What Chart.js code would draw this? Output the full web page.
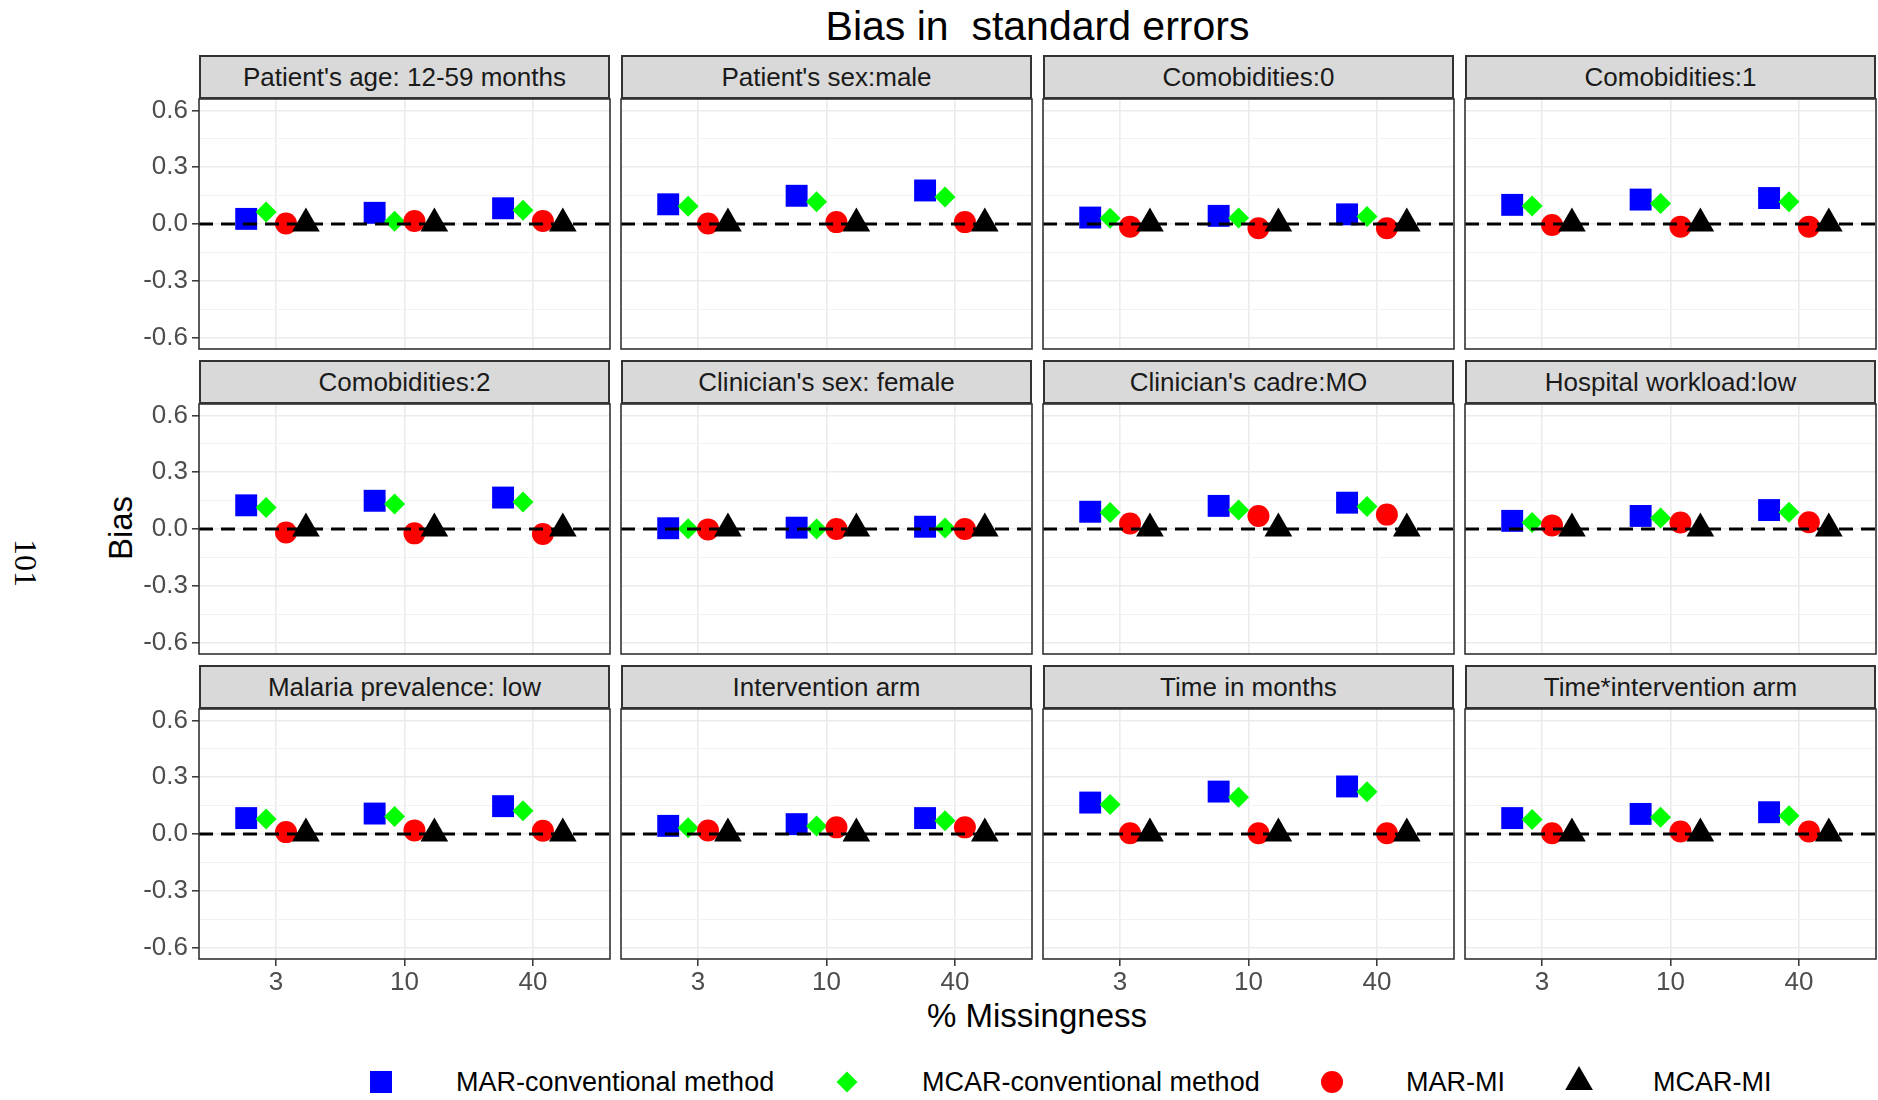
<!DOCTYPE html>
<html>
<head>
<meta charset="utf-8">
<title>Bias in standard errors</title>
<script src="https://cdn.jsdelivr.net/npm/chart.js"></script>
<style>
  html, body { margin: 0; padding: 0; background: #fff; }
  #page {
    position: relative; width: 1878px; height: 1100px; overflow: hidden;
    background: #fff; font-family: "Liberation Sans", Arial, sans-serif;
  }
  .abs { position: absolute; white-space: pre; }
  #title { left: 199px; width: 1677px; top: 4px; text-align: center; font-size: 41px; line-height: 44px; color: #000; }
  #yTitle { left: 121px; top: 528px; font-size: 33px; line-height: 36px; color: #000; transform: translate(-50%, -50%) rotate(-90deg); }
  #xTitle { left: 1037px; top: 1016px; font-size: 33px; line-height: 36px; color: #000; transform: translate(-50%, -50%); }
  #pageNo { left: 26px; top: 563px; font-family: "Liberation Serif", "Times New Roman", serif; font-size: 32px; line-height: 34px; color: #000; transform: translate(-50%, -50%) rotate(90deg); }
  .strip {
    position: absolute; width: 411px; height: 44px; box-sizing: border-box;
    background: #D9D9D9; border: 2px solid #333; text-align: center;
    font-size: 26px; line-height: 40px; color: #1A1A1A; white-space: pre;
  }
  .panel { position: absolute; }
  .legendText { font-size: 27px; line-height: 30px; color: #000; transform: translateY(-50%); }
  .legendKey { position: absolute; overflow: visible; }
</style>
</head>
<body>
<div id="page">
  <div id="title" class="abs">Bias in  standard errors</div>
  <div id="pageNo" class="abs">101</div>
  <div id="yTitle" class="abs">Bias</div>
  <div id="xTitle" class="abs">% Missingness</div>
</div>
<script>
// x categories (% missingness) and facet titles
const categories = ['3', '10', '40'];
const panelTitles = [
  "Patient's age: 12-59 months", "Patient's sex:male", 'Comobidities:0', 'Comobidities:1',
  'Comobidities:2', "Clinician's sex: female", "Clinician's cadre:MO", 'Hospital workload:low',
  'Malaria prevalence: low', 'Intervention arm', 'Time in months', 'Time*intervention arm'
];

// bias per panel, one value per category
const marConventional = [
  [0.027, 0.059, 0.083], [0.104, 0.149, 0.177], [0.034, 0.043, 0.051], [0.101, 0.129, 0.137],
  [0.125, 0.149, 0.166], [0.004, 0.007, 0.012], [0.091, 0.122, 0.139], [0.043, 0.069, 0.100],
  [0.084, 0.108, 0.147], [0.043, 0.052, 0.084], [0.166, 0.224, 0.251], [0.084, 0.106, 0.115]
];
const mcarConventional = [
  [0.063, 0.014, 0.072], [0.094, 0.117, 0.142], [0.031, 0.032, 0.040], [0.095, 0.108, 0.117],
  [0.114, 0.132, 0.143], [0.001, 0.000, 0.005], [0.087, 0.100, 0.119], [0.034, 0.058, 0.089],
  [0.079, 0.092, 0.123], [0.033, 0.042, 0.070], [0.156, 0.194, 0.223], [0.077, 0.088, 0.096]
];
const marMI = [
  [0.003, 0.016, 0.016], [0.003, 0.010, 0.010], [-0.014, -0.022, -0.022], [-0.005, -0.014, -0.014],
  [-0.018, -0.023, -0.026], [-0.002, 0.000, 0.000], [0.029, 0.069, 0.076], [0.019, 0.034, 0.036],
  [0.010, 0.019, 0.017], [0.018, 0.035, 0.035], [0.004, 0.004, 0.004], [0.004, 0.013, 0.013]
];
const mcarMI = [
  [0.002, 0.003, 0.003], [0.003, 0.003, 0.003], [0.003, 0.003, 0.003], [0.003, 0.003, 0.003],
  [0.003, 0.003, 0.003], [0.003, 0.003, 0.003], [0.002, 0.002, 0.002], [0.002, 0.002, 0.002],
  [0.003, 0.003, 0.003], [0.002, 0.002, 0.002], [0.003, 0.003, 0.003], [0.003, 0.003, 0.003]
];

// y axis: labelled ticks every 0.3, light minor lines in between
const yTickValues = [-0.6, -0.45, -0.3, -0.15, 0, 0.15, 0.3, 0.45, 0.6];

const seriesNames = ['MAR-conventional method', 'MCAR-conventional method', 'MAR-MI', 'MCAR-MI'];
const seriesValues = [marConventional, mcarConventional, marMI, mcarMI];
const seriesStyle = [
  { color: '#0000FF', shape: 'rect', radius: 15.5 },
  { color: '#00FF00', shape: 'rectRot', radius: 10.5 },
  { color: '#FF0000', shape: 'circle', radius: 11 },
  { color: '#000000', shape: 'triangle', radius: 16 }
];
const dodge = [-0.2325, -0.0775, 0.0775, 0.2325];

// facet grid geometry
const colX = [199, 621, 1043, 1465];
const rowY = [55, 360, 665];
const PANEL_W = 411, PANEL_H = 250, STRIP_H = 44, PAD = 2;
const AXIS_W = 72, AXIS_H = 48;

const tickFont = { family: '"Liberation Sans", Arial, sans-serif', size: 26 };

const panelBorder = {
  id: 'panelBorder',
  afterDraw(chart) {
    const { ctx, chartArea: a } = chart;
    ctx.save();
    ctx.strokeStyle = '#333333';
    ctx.lineWidth = 1.6;
    ctx.strokeRect(a.left, a.top, a.right - a.left, a.bottom - a.top);
    ctx.restore();
  }
};

const page = document.getElementById('page');

panelTitles.forEach((name, i) => {
  const col = i % 4, row = Math.floor(i / 4);
  const leftCol = col === 0, bottomRow = row === 2;

  const strip = document.createElement('div');
  strip.className = 'strip';
  strip.style.left = colX[col] + 'px';
  strip.style.top = rowY[row] + 'px';
  strip.textContent = name;
  page.appendChild(strip);

  const axisW = leftCol ? AXIS_W : 0;
  const axisH = bottomRow ? AXIS_H : 0;
  const w = PANEL_W + 2 * PAD + axisW;
  const h = PANEL_H + 2 * PAD + axisH;
  const box = document.createElement('div');
  box.className = 'panel';
  box.style.left = (colX[col] - PAD - axisW) + 'px';
  box.style.top = (rowY[row] + STRIP_H - PAD) + 'px';
  const canvas = document.createElement('canvas');
  canvas.width = w; canvas.height = h;
  canvas.style.width = w + 'px'; canvas.style.height = h + 'px';
  box.appendChild(canvas);
  page.appendChild(box);

  const datasets = [{
    type: 'line',
    data: [{ x: 0.4, y: 0 }, { x: 3.6, y: 0 }],
    showLine: true,
    borderColor: '#000',
    borderWidth: 3,
    borderDash: [14, 8],
    pointRadius: 0,
    order: 0
  }];
  seriesValues.forEach((values, s) => {
    datasets.push({
      label: seriesNames[s],
      data: values[i].map((v, k) => ({ x: k + 1 + dodge[s], y: v })),
      pointStyle: seriesStyle[s].shape,
      pointRadius: seriesStyle[s].radius,
      pointBackgroundColor: seriesStyle[s].color,
      pointBorderWidth: 0,
      order: 4 - s
    });
  });

  new Chart(canvas, {
    type: 'scatter',
    data: { datasets },
    options: {
      responsive: false,
      animation: false,
      devicePixelRatio: 1,
      events: [],
      layout: { padding: PAD, autoPadding: false },
      plugins: { legend: { display: false }, tooltip: { enabled: false } },
      scales: {
        x: {
          type: 'linear', min: 0.4, max: 3.6,
          afterBuildTicks: s => { s.ticks = categories.map((c, k) => ({ value: k + 1 })); },
          afterFit: s => { s.height = axisH; s.paddingLeft = 0; s.paddingRight = 0; },
          border: { display: false },
          grid: { color: '#EBEBEB', lineWidth: 1.6, drawTicks: bottomRow, tickLength: 7, tickColor: '#333333', tickWidth: 1.5 },
          ticks: { display: bottomRow, autoSkip: false, maxRotation: 0, padding: 1, color: '#4D4D4D', font: tickFont,
                   callback: v => categories[Math.round(v) - 1] }
        },
        y: {
          type: 'linear', min: -0.66, max: 0.66,
          afterBuildTicks: s => { s.ticks = yTickValues.map(v => ({ value: v })); },
          afterFit: s => { s.width = axisW; s.paddingTop = 0; s.paddingBottom = 0; },
          border: { display: false },
          grid: {
            color: c => c.index % 2 === 0 ? '#EBEBEB' : '#F2F2F2',
            lineWidth: c => c.index % 2 === 0 ? 1.6 : 1,
            drawTicks: leftCol, tickLength: 7, tickWidth: 1.5,
            tickColor: c => c.index % 2 === 0 ? '#333333' : 'rgba(0,0,0,0)'
          },
          ticks: { display: leftCol, autoSkip: false, padding: 4, color: '#4D4D4D', font: tickFont,
                   callback: (v, idx) => idx % 2 === 0 ? v.toFixed(1) : '' }
        }
      }
    },
    plugins: [panelBorder]
  });
});

// legend row
const legendKeyX = [381, 847, 1332, 1579];
const legendTextX = [456, 922, 1406, 1653];
const legendY = 1082;
const keyShapes = [
  c => `<rect x="-11" y="-11" width="22" height="22" fill="${c}"/>`,
  c => `<polygon points="0,-10.5 10.5,0 0,10.5 -10.5,0" fill="${c}"/>`,
  c => `<circle cx="0" cy="0" r="11" fill="${c}"/>`,
  c => `<polygon points="0,-16 13.86,8 -13.86,8" fill="${c}"/>`
];
seriesNames.forEach((name, s) => {
  const svg = document.createElementNS('http://www.w3.org/2000/svg', 'svg');
  svg.setAttribute('class', 'legendKey');
  svg.setAttribute('width', 40); svg.setAttribute('height', 40);
  svg.setAttribute('viewBox', '-20 -20 40 40');
  svg.style.left = (legendKeyX[s] - 20) + 'px';
  svg.style.top = (legendY - 20) + 'px';
  svg.innerHTML = keyShapes[s](seriesStyle[s].color);
  page.appendChild(svg);

  const t = document.createElement('div');
  t.className = 'abs legendText';
  t.style.left = legendTextX[s] + 'px';
  t.style.top = legendY + 'px';
  t.textContent = name;
  page.appendChild(t);
});
</script>
</body>
</html>
